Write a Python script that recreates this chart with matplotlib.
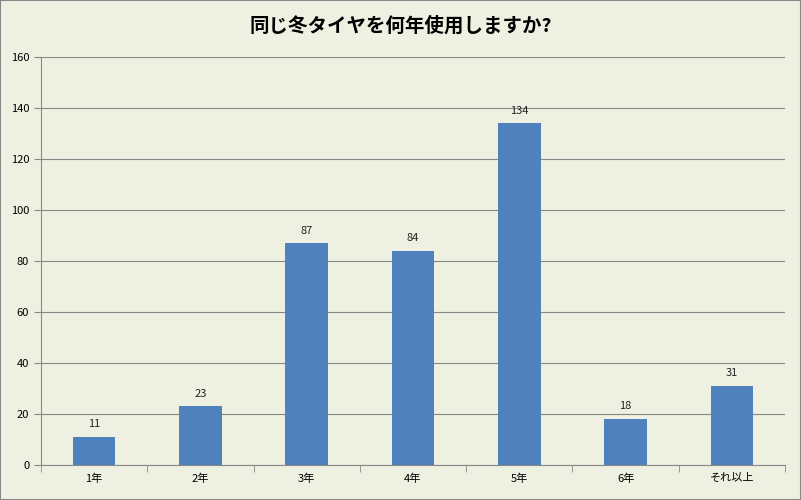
import matplotlib
matplotlib.use("Agg")
import matplotlib.pyplot as plt
import numpy as np

plt.rcParams['font.family'] = ['Noto Sans CJK JP', 'DejaVu Sans']

categories = ["1年", "2年", "3年", "4年", "5年", "6年", "それ以上"]
values = [11, 23, 87, 84, 134, 18, 31]
title = "同じ冬タイヤを何年使用しますか?"

bg = "#EEF1E1"
fig = plt.figure(figsize=(8.01, 5.0), dpi=100, facecolor=bg)
ax = fig.add_axes([41/801, 35/500, 744/801, 408/500], facecolor=bg)
x = np.arange(len(categories))
ax.bar(x, values, width=0.4, color="#4F81BD", zorder=3)
for xi, v in zip(x, values):
    ax.text(xi, v + 3, str(v), ha="center", va="bottom", fontsize=8, color="#222222")
ax.set_xlim(-0.5, len(categories) - 0.5)
ax.set_ylim(0, 160)
ax.set_yticks(range(0, 161, 20))
ax.set_xticks(x)
ax.set_xticklabels(categories, fontsize=8)
ax.set_xticks(np.arange(-0.5, len(categories), 1), minor=True)
ax.tick_params(axis='x', which='major', length=0, pad=6)
ax.tick_params(axis='x', which='minor', length=5, color="#888888")
ax.tick_params(axis='y', labelsize=8, length=5, color="#888888")
ax.grid(axis='y', color="#888888", linewidth=0.8, zorder=0)
for s in ['top', 'right']:
    ax.spines[s].set_visible(False)
for s in ['left', 'bottom']:
    ax.spines[s].set_color("#888888")
fig.text(0.5, 1 - 26/500, title, ha="center", va="center", fontsize=14, fontweight="bold")
fig.patches.append(plt.Rectangle((0, 0), 1, 1, transform=fig.transFigure, fill=False,
                                 edgecolor="#888888", linewidth=1.5))
fig.savefig("out.png", dpi=100, facecolor=bg)
